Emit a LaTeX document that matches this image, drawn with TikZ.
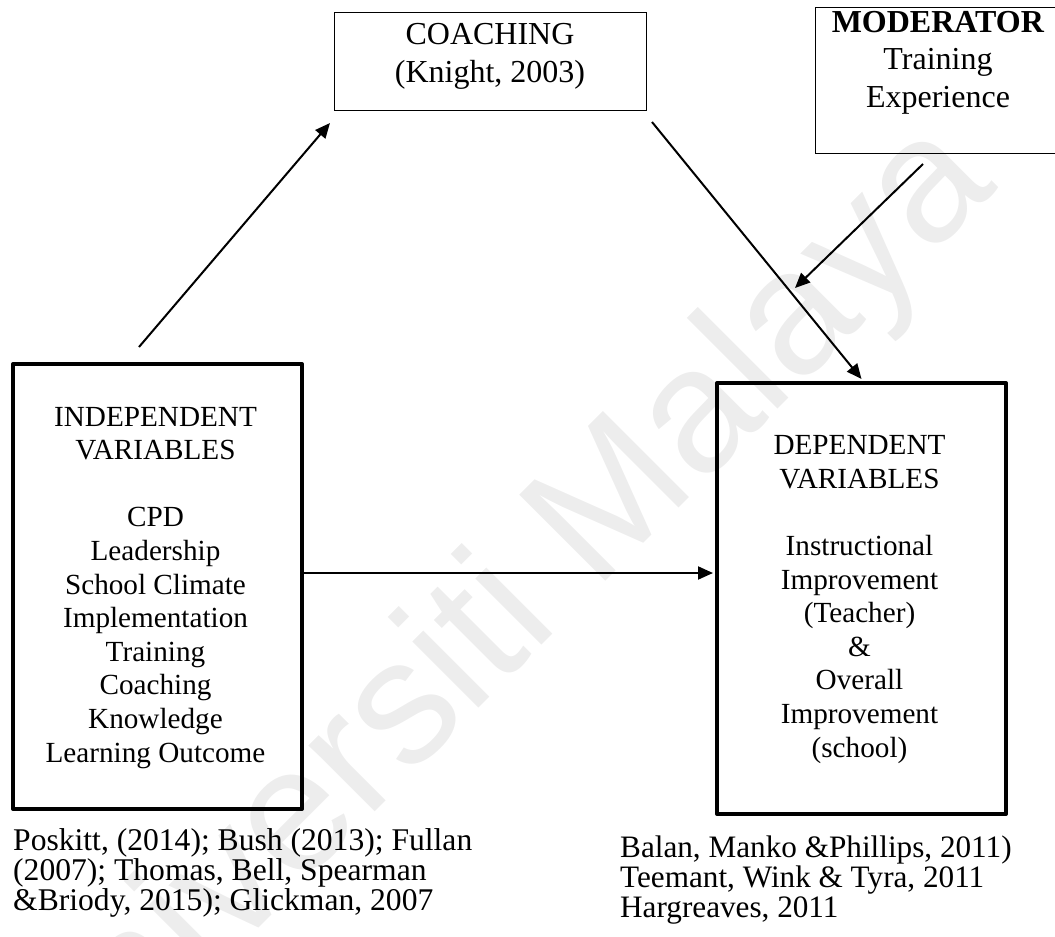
\documentclass[tikz,border=0pt]{standalone}
\usepackage{fontspec}
\setmainfont{Liberation Serif}
\newfontfamily\marksans{Liberation Sans}
\usetikzlibrary{arrows.meta}
\definecolor{markgray}{RGB}{237,237,237}
\begin{document}
\begin{tikzpicture}[x=1pt,y=-1pt,
  thinbox/.style={draw,line width=1.3pt,inner sep=0pt,anchor=north west},
  thickbox/.style={draw,line width=4pt,line join=round,inner sep=0pt,anchor=north west},
  link/.style={line width=2pt,-{Triangle[length=15pt,width=13pt]}},
  % multi-line texts are placed by the baseline of their last line
  boxtext/.style={align=center,inner sep=0pt,anchor=base,
    font=\fontsize{29.2}{33.6}\selectfont},
  headtext/.style={align=center,inner sep=0pt,anchor=base,
    font=\fontsize{32}{37.5}\selectfont},
  reftext/.style={align=left,inner sep=0pt,anchor=base west},
]
\useasboundingbox (0,0) rectangle (1055,937);
\clip (0,0) rectangle (1055,937);

% background watermark
\node[rotate=45,anchor=base,inner sep=0pt,text=markgray,
      font=\marksans\fontsize{177}{177}\selectfont] (mark) at (523,664) {Universiti Malaya};

% boxes
\node[thinbox,minimum width=312pt,minimum height=98pt] (coach) at (334,12) {};
\node[thinbox,minimum width=246pt,minimum height=146pt] (moder) at (815,7) {};
\node[thickbox,minimum width=289pt,minimum height=445pt] (indep) at (11,362) {};
\node[thickbox,minimum width=289pt,minimum height=431pt] (dep) at (715,381) {};

% box contents
\node[headtext] (coachtxt) at (490,82) {COACHING\\(Knight, 2003)};
\node[headtext] (modertxt) at (938,107) {\textbf{MODERATOR}\\Training\\Experience};
\node[boxtext] (indeptxt) at (155.5,762) {INDEPENDENT\\VARIABLES\\[33.6pt]CPD\\Leadership\\School Climate\\Implementation\\Training\\Coaching\\Knowledge\\Learning Outcome};
\node[boxtext] (deptxt) at (859.5,757) {DEPENDENT\\VARIABLES\\[33.6pt]Instructional\\Improvement\\(Teacher)\\\&\\Overall\\Improvement\\(school)};

% references under the boxes
\node[reftext,font=\fontsize{31.6}{28.5}\selectfont] (indepref) at (13,910) {Poskitt, (2014); Bush (2013); Fullan\\(2007); Thomas, Bell, Spearman\\\&Briody, 2015); Glickman, 2007};
\node[reftext,font=\fontsize{31.2}{30}\selectfont] (depref) at (620,917) {Balan, Manko \&Phillips, 2011)\\Teemant, Wink \& Tyra, 2011\\Hargreaves, 2011};

% connector ends
\coordinate (upstart) at (139,347);
\coordinate (upend) at (330,123);
\coordinate (downstart) at (652,122);
\coordinate (modstart) at (923,164);
\coordinate (modend) at (795,288);
\coordinate (hline) at (0,573);

% connectors
\draw[link] (upstart) -- (upend);
\draw[link] (downstart) -- ([yshift=2pt]dep.north);
\draw[link] (modstart) -- (modend);
\draw[link] (indep.east |- hline) -- ([xshift=-2pt]dep.west |- hline);
\end{tikzpicture}
\end{document}
